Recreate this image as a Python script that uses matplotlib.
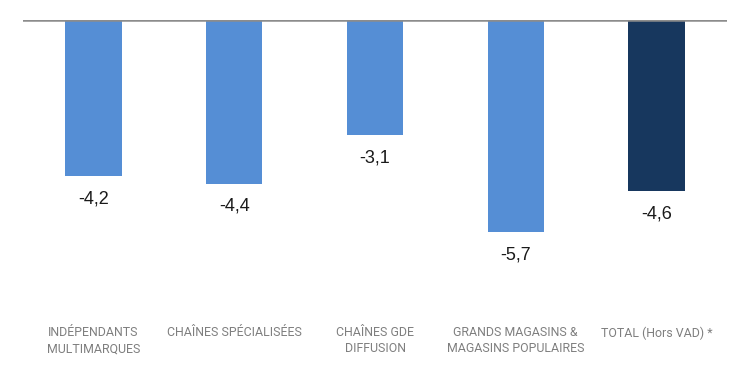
import matplotlib
matplotlib.use("Agg")
import matplotlib.pyplot as plt

categories = ["INDÉPENDANTS\nMULTIMARQUES", "CHAÎNES SPÉCIALISÉES", "CHAÎNES GDE\nDIFFUSION",
              "GRANDS MAGASINS &\nMAGASINS POPULAIRES", "TOTAL (Hors VAD) *"]
values = [-4.2, -4.4, -3.1, -5.7, -4.6]
colors = ["#558ed5", "#558ed5", "#558ed5", "#558ed5", "#17375e"]

fig = plt.figure(figsize=(7.5, 3.9), dpi=100)
ax = fig.add_axes([0.031, 0.185, 0.938, 0.764])

x = range(len(values))
bars = ax.bar(x, values, width=0.4, color=colors)

for b, v in zip(bars, values):
    ax.annotate(f"{v:.1f}".replace(".", ","), (b.get_x() + b.get_width() / 2, v),
                xytext=(0, -10), textcoords="offset points", ha="center", va="top",
                fontsize=13, family="Liberation Sans", color="#1a1a1a")

ax.axhline(0, color="#8c8c8c", lw=1.8)
ax.set_xlim(-0.5, len(values) - 0.5)
ax.set_ylim(-8, 0)
ax.set_yticks([])
ax.set_xticks(list(x))
ax.set_xticklabels(categories, fontsize=8.9, color="#7f7f7f", family="Roboto", linespacing=1.3)
ax.tick_params(axis="x", length=0, pad=6)
for s in ax.spines.values():
    s.set_visible(False)

fig.savefig("out.png", dpi=100)
